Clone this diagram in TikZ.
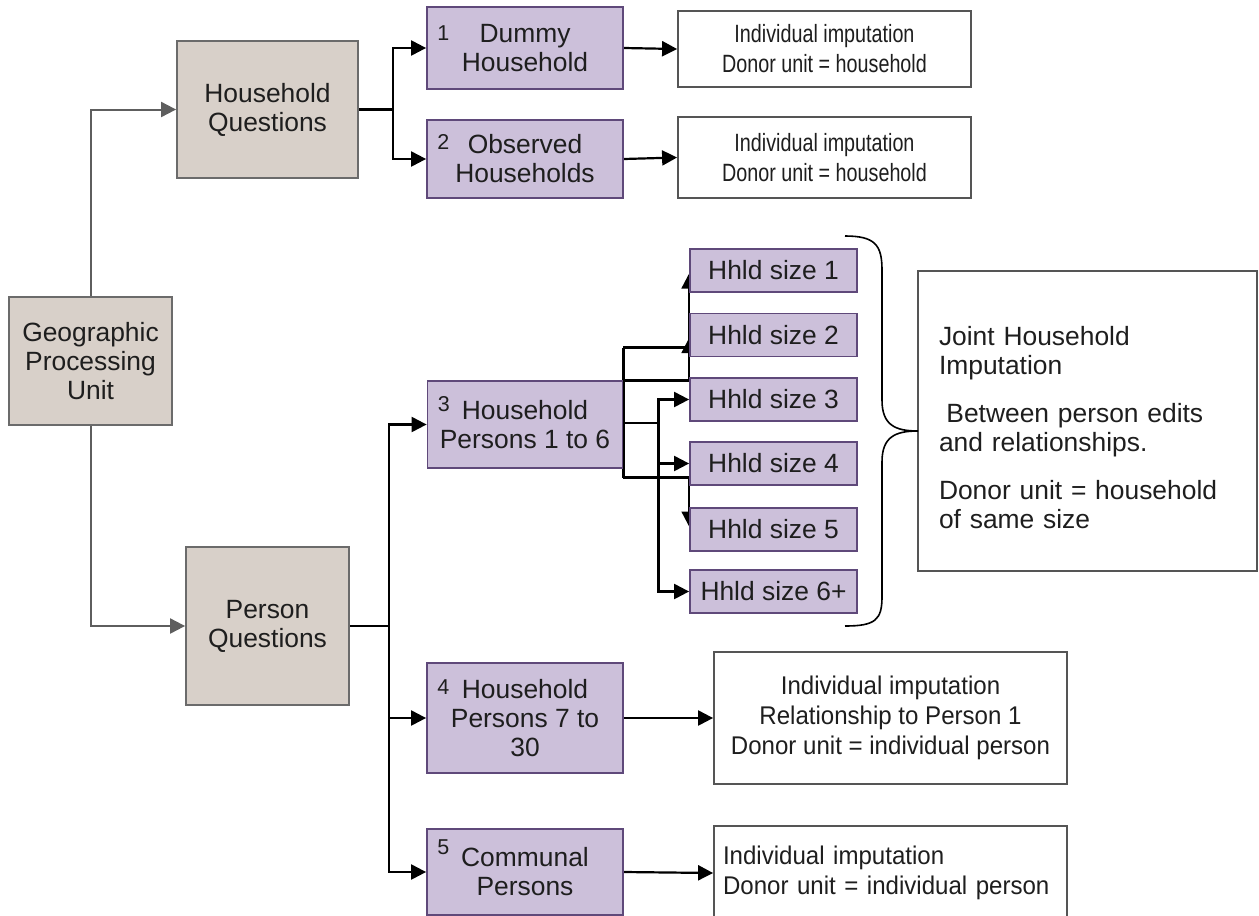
\documentclass[tikz,border=0pt]{standalone}
\usepackage{fontspec}
\setmainfont{Liberation Sans}
\newfontfamily\narrowsf[FakeStretch=0.79]{Liberation Sans}
\newfontfamily\semisf[FakeStretch=0.94]{Liberation Sans}
\usetikzlibrary{arrows.meta,calc,backgrounds}
\definecolor{sandfill}{HTML}{D8D0C9}
\definecolor{sandline}{HTML}{6B6B6B}
\definecolor{lilacfill}{HTML}{CCC0DA}
\definecolor{lilacline}{HTML}{5F497A}
\definecolor{boxline}{HTML}{555555}
\definecolor{txt}{HTML}{1E1E1E}
\definecolor{feed}{HTML}{5E5E5E}

\tikzset{
  sandbox/.style={draw=sandline, fill=sandfill, line width=1.8pt, align=center, inner sep=2pt},
  lilacbox/.style={draw=lilacline, fill=lilacfill, line width=1.8pt, align=center, inner sep=2pt},
  outbox/.style={draw=boxline, fill=white, line width=1.8pt, align=center},
  numtag/.style={anchor=north west, inner sep=0pt, xshift=11pt, yshift=-16pt, font=\fontsize{21.5}{21.5}\selectfont},
  feedline/.style={draw=feed, line width=2pt, -{Triangle[length=15pt,width=15pt]}},
  link/.style={line width=2.2pt},
  linkto/.style={link, -{Triangle[length=15pt,width=15pt]}},
}

\begin{document}
\begin{tikzpicture}[x=1pt, y=-1pt, font=\fontsize{26.4}{29}\selectfont, text=txt]
  \clip (0,0) rectangle (1259,916);

  % questions
  \node[sandbox, minimum width=163pt, minimum height=128pt] (geo) at (90.5,361) {Geographic\\Processing\\Unit};
  \node[sandbox, minimum width=181pt, minimum height=137pt] (hq) at (267.5,109.5) {Household\\Questions};
  \node[sandbox, minimum width=163pt, minimum height=158pt] (pq) at (267.5,626) {Person\\Questions};

  % groups
  \node[lilacbox, minimum width=196pt, minimum height=82pt, label={[numtag,yshift=-3pt]north west:1}] (b1) at (525,48) {Dummy\\Household};
  \node[lilacbox, minimum width=196pt, minimum height=78pt, label={[numtag,yshift=1pt]north west:2}] (b2) at (525,159) {Observed\\Households};
  \node[lilacbox, minimum width=195pt, minimum height=87pt, label={[numtag]north west:3}] (b3) at (525,424.5) {Household\\Persons 1 to 6};
  \node[lilacbox, minimum width=196pt, minimum height=110pt, label={[numtag,yshift=-1pt]north west:4}] (b4) at (525,718) {Household\\Persons 7 to\\30};
  \node[lilacbox, minimum width=196pt, minimum height=86pt, label={[numtag,yshift=5pt]north west:5}] (b5) at (525,872) {Communal\\Persons};

  \foreach \n/\y/\t in {1/270.5/1, 2/335/2, 3/399.5/3, 4/463.5/4, 5/529.5/5, 6/591.5/6+}
    \node[lilacbox, minimum width=167pt, minimum height=43pt] (s\n) at (773.5,\y) {Hhld size \t};

  % imputation
  \node[outbox, font=\narrowsf\fontsize{25}{30}\selectfont, minimum width=293pt, minimum height=76pt] (r1) at (824.5,49) {Individual imputation\\Donor unit = household};
  \node[outbox, font=\narrowsf\fontsize{25}{30}\selectfont, minimum width=293pt, minimum height=81pt] (r2) at (824.5,157.5) {Individual imputation\\Donor unit = household};
  \node[outbox, font=\semisf\fontsize{25.6}{30}\selectfont, minimum width=353pt, minimum height=132pt] (r4) at (890.5,718) {Individual imputation\\Relationship to Person 1\\Donor unit = individual person};
  \node[outbox, font=\semisf\fontsize{25.6}{30}\selectfont, align=left, text width=335pt, inner sep=9pt, minimum height=94pt] (r5) at (890.5,873) {Individual imputation\\Donor unit = individual person};
  \node[outbox, align=left, text width=297pt, inner xsep=21pt, minimum height=300pt] (joint) at (1087.5,421)
    {\rule{0pt}{32pt}Joint Household\\Imputation\\[19pt]\hspace*{0.28em}Between person edits\\and relationships.\\[19pt]Donor unit = household\\of same size};

  \draw[line width=1.6pt] (845,236) .. controls (875,236) and (882,245) .. (882,270) -- (882,400)
    .. controls (882,425) and (895,431) .. (918,431) .. controls (895,431) and (882,437) .. (882,462)
    -- (882,597) .. controls (882,620) and (875,626) .. (845,626);

  \begin{scope}[on background layer]
    \draw[feedline] (geo.north) |- (hq.west);
    \draw[feedline] (geo.south) |- (pq.west);
    \draw[link] (hq.east) -- ++(34,0) coordinate (hqj);
    \draw[linkto] (hqj) |- (b1.west);
    \draw[linkto] (hqj) |- (b2.west);
    \draw[link] (pq.east) -- ++(39,0) coordinate (pqj);
    \foreach \b in {b3,b4,b5}
      \draw[linkto] (pqj) |- (\b.west);
    \draw[linkto] (b1.east) -- (r1.west);
    \draw[linkto] (b2.east) -- (r2.west);
    \draw[linkto] (b4.east) -- (r4.west);
    \draw[linkto] (b5.east) -- (r5.west);
    % household sizes
    \draw[link] ($(b3.east)+(0,-77)$) coordinate (k1) -- ++(0,130);
    \draw[linkto] (k1) -| ($(s2.west)+(0,3)$);
    \draw[linkto] ($(b3.east)+(0,-44)$) -| ($(s1.west)+(0,3)$);
    \draw[linkto] ($(b3.east)+(0,53)$) -| ($(s5.west)+(0,-3)$);
    \draw[link] ($(b3.east)+(0,-1.5)$) -- ++(35,0) coordinate (k3);
    \foreach \s in {s3,s4,s6}
      \draw[linkto] (k3) |- (\s.west);
  \end{scope}
\end{tikzpicture}
\end{document}
